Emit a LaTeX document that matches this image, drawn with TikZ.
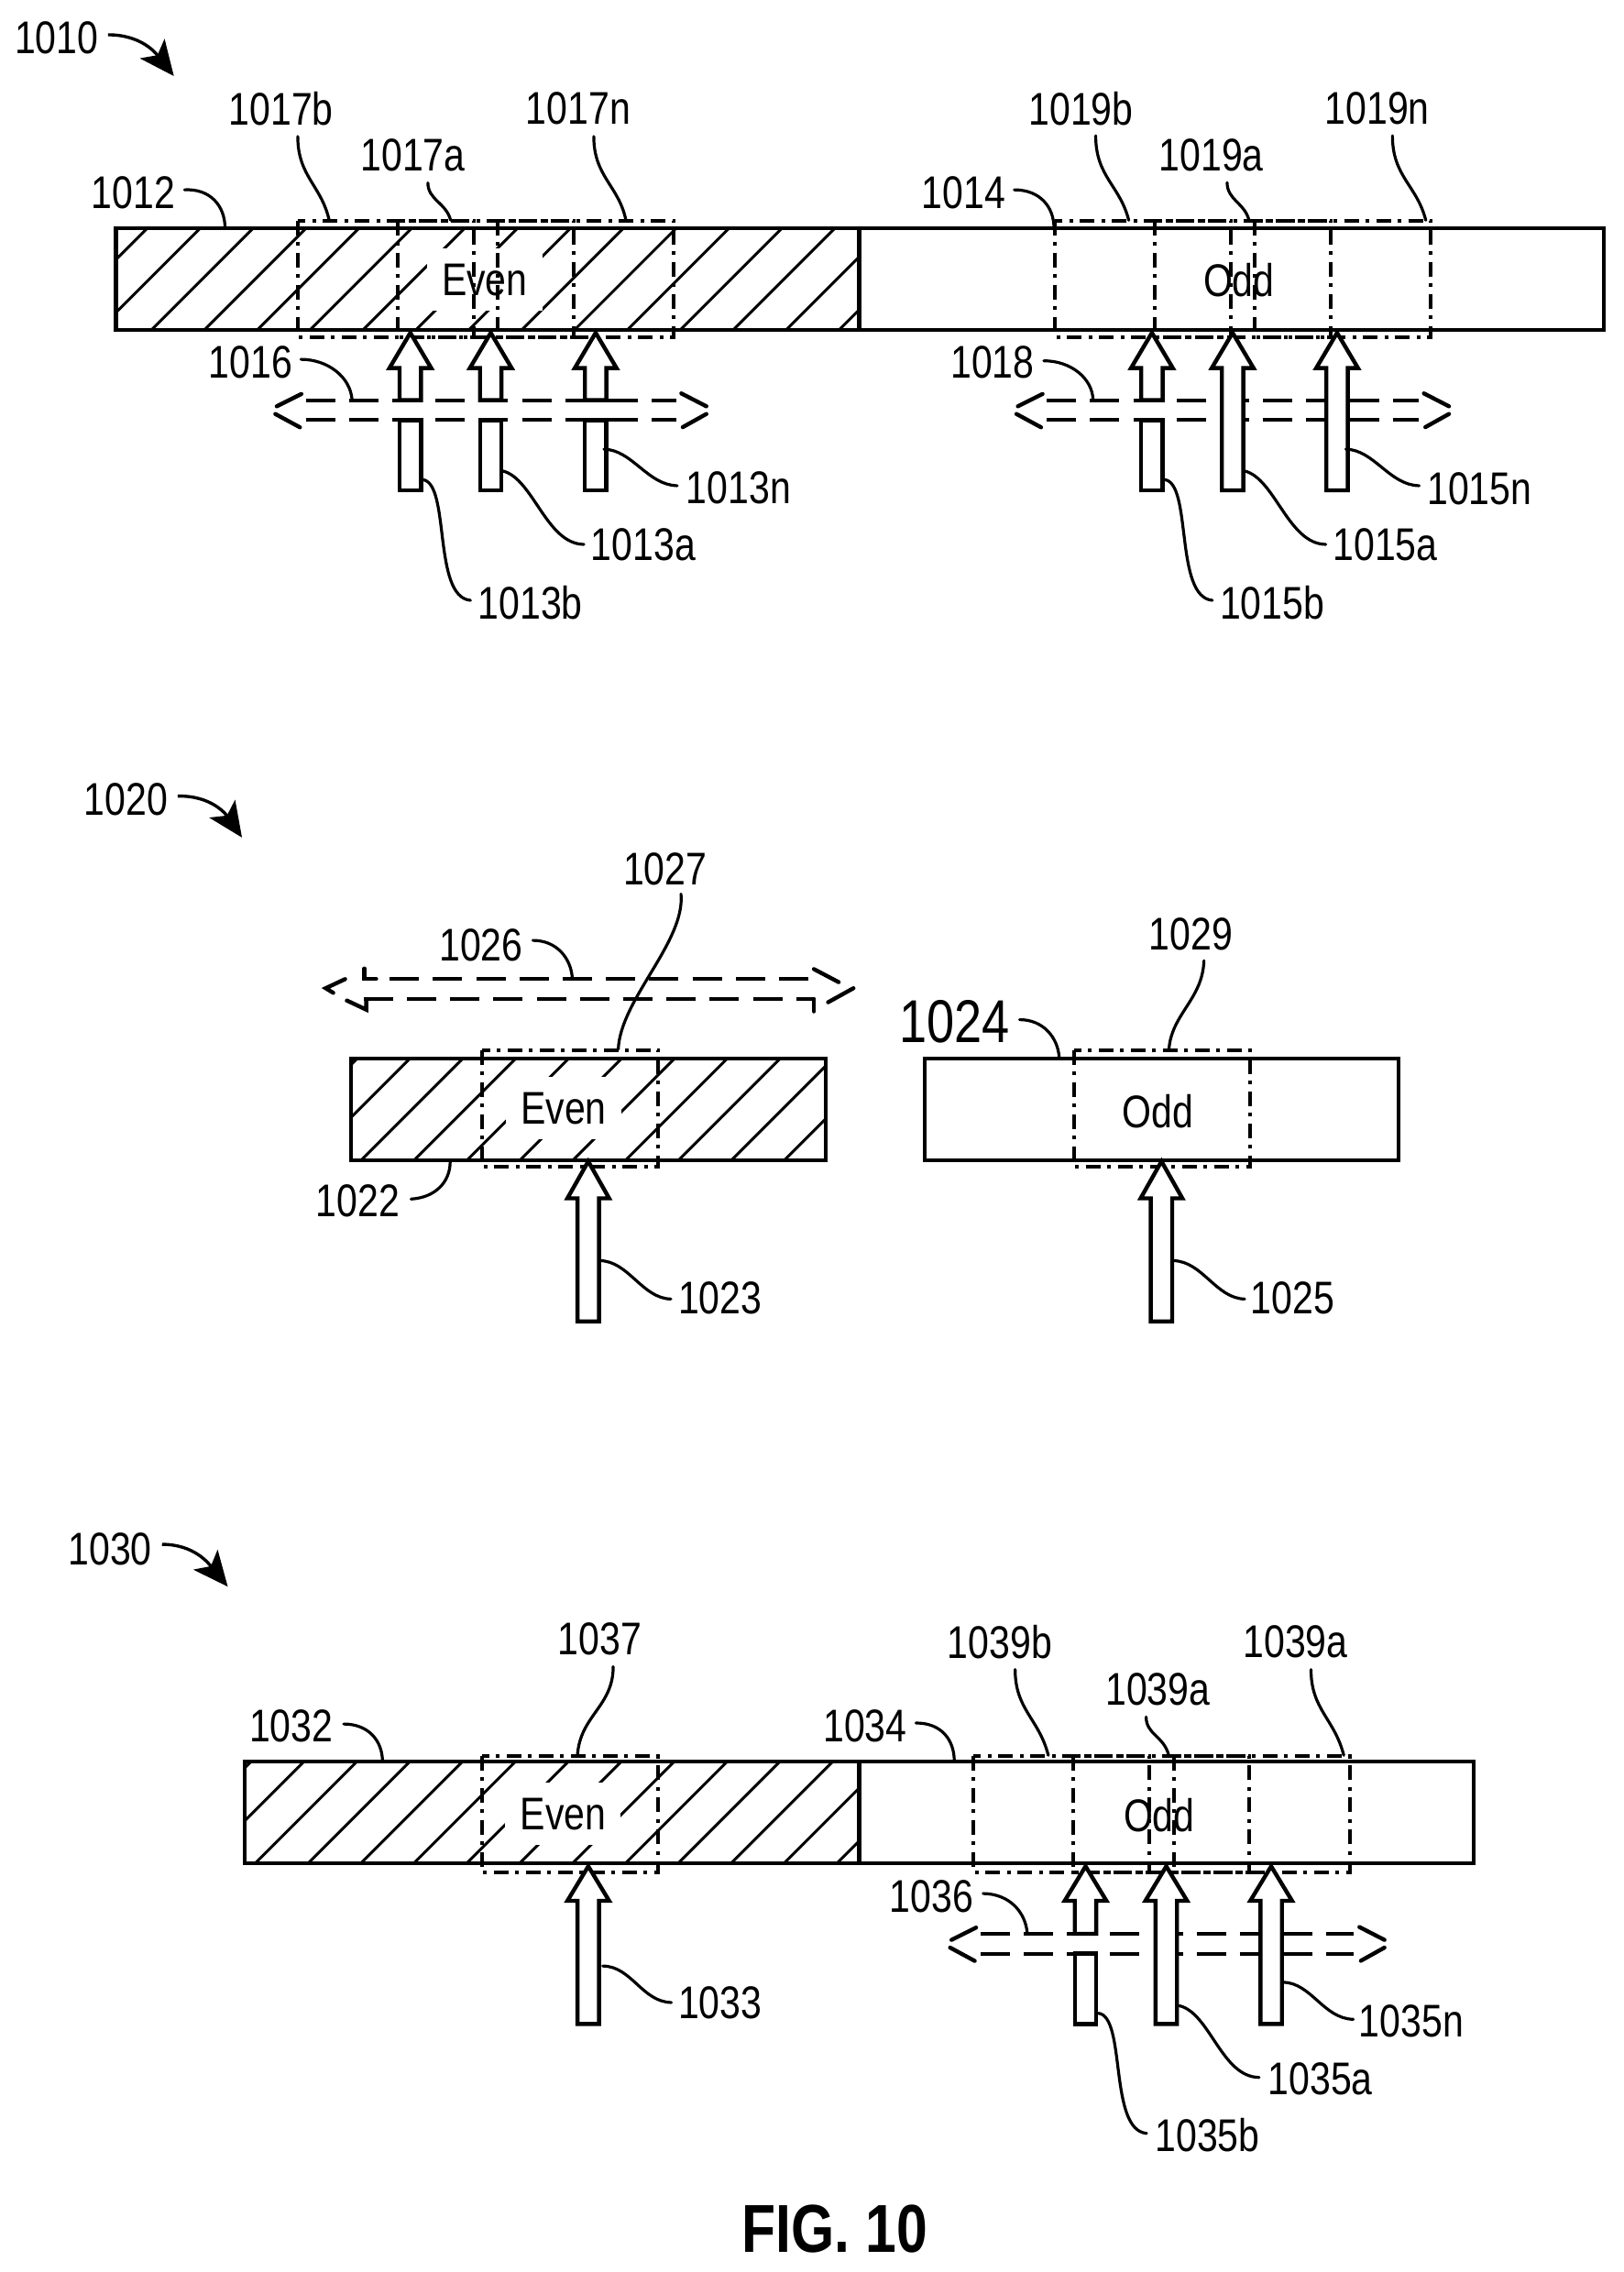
\documentclass[tikz,border=0pt]{standalone}
\usepackage{fontspec}
\setmainfont[FakeStretch=0.82]{Liberation Sans}
\usetikzlibrary{arrows.meta}
\newcommand\lead[5]{\coordinate (#1a) at (#2); \coordinate (#1b) at (#5); \draw[leader] (#1a) .. controls (#3) and (#4) .. (#1b);}
\newcommand\blk[4]{\draw[blockarrow] ({#1-7.4},#4) -- ({#1-7.4},#3) -- ({#1-14.4},#3) -- (#1,#2) -- ({#1+14.4},#3) -- ({#1+7.4},#3) -- ({#1+7.4},#4) -- cycle;}
\newcommand\gapblk[6]{\draw[blockarrow] ({#1-7.4},#4) -- ({#1-7.4},#3) -- ({#1-14.4},#3) -- (#1,#2) -- ({#1+14.4},#3) -- ({#1+7.4},#3) -- ({#1+7.4},#4) -- cycle;
 \draw[blockarrow] ({#1-7.4},#6) -- ({#1-7.4},#5) -- ({#1+7.4},#5) -- ({#1+7.4},#6) -- cycle;}
\newcommand\hatchbar[5]{\begin{scope}
 \clip (#1,#3) rectangle (#2,#4);
 \foreach \k in {0,...,40} {\draw[hatchline] ({#5+36.5*(\k-3)},#4) -- ++(80,-80);}
 \end{scope}}
\newcommand\ddbox[2]{\draw[dashdot] (#1,#2) rectangle ++(121.4,80.4);}
\newcommand\dblarrow[4]{\draw[dashline] ({#1+21},#3) -- ({#2-21},#3);
 \draw[dashline] ({#1+21},#4) -- ({#2-21},#4);
 \draw[chevron] ({#1+18},{#3-4.3}) -- ({#1+1},{#3+4.2});
 \draw[chevron] (#1,{#4-4.2}) -- ({#1+17},{#4+5});
 \draw[chevron] ({#2-17.3},{#3-4.7}) -- (#2,{#3+4.2});
 \draw[chevron] (#2,{#4-4.2}) -- ({#2-16.3},{#4+4.9});}
\begin{document}
\begin{tikzpicture}[x=1.581pt,y=-1.581pt,
 lab/.style={font=\fontsize{50}{50}\selectfont,inner sep=0pt,text=black},
 bar/.style={draw=black,line width=4.2pt},
 hatchline/.style={draw=black,line width=3pt},
 leader/.style={draw=black,line width=3.2pt,line cap=round},
 dashdot/.style={draw=black,line width=4pt,dash pattern=on 16pt off 7.5pt on 4pt off 7.5pt},
 dashline/.style={draw=black,line width=4pt,dash pattern=on 32pt off 15.2pt},
 chevron/.style={draw=black,line width=4.4pt,line cap=round},
 blockarrow/.style={draw=black,fill=white,line width=4.4pt,miter limit=4},
 evenbox/.style={fill=white,inner sep=0pt,minimum width=126pt,minimum height=68pt,font=\fontsize{50}{50}\selectfont},
 refarrow/.style={draw=black,line width=3.4pt,-{Stealth[length=38pt,width=34pt,inset=9pt]}}]
\useasboundingbox (0,0) rectangle (1120.2,1568);
\fill[white] (0,0) rectangle (1120.2,1568);

% ---------- panel 1010
\hatchbar{80}{593}{157.5}{227.7}{141}
\node[evenbox] (even1) at (334.5,193) {Even};
\draw[bar] (80,157.5) rectangle (1107,227.7);
\draw[bar] (593,157.5) -- (593,227.7);
\node[lab] (odd1) at (855,193) {Odd};
\ddbox{205.6}{152.2}\ddbox{274.7}{152.2}\ddbox{343.7}{152.2}
\ddbox{728.2}{152.2}\ddbox{797}{152.2}\ddbox{866.2}{152.2}
\dblarrow{190}{487.5}{276.2}{289.9}
\dblarrow{701.5}{1000}{276.2}{289.9}
\gapblk{283.2}{229.7}{254}{276.2}{289.9}{338.4}
\gapblk{338.7}{229.7}{254}{276.2}{289.9}{338.4}
\gapblk{411.1}{229.7}{254}{276.2}{289.9}{338.4}
\gapblk{795}{229.7}{254}{276.2}{289.9}{338.4}
\blk{850.7}{229.7}{254}{338.4}
\blk{922.8}{229.7}{254}{338.4}

\node[lab] (n1010) at (39,26) {1010};
\node[lab] (n1017b) at (194,75) {1017b};
\node[lab] (n1017a) at (285,107) {1017a};
\node[lab] (n1017n) at (399,75) {1017n};
\node[lab] (n1012) at (92,133) {1012};
\node[lab] (n1016) at (173,250) {1016};
\node[lab] (n1013n) at (509.7,336.5) {1013n};
\node[lab] (n1013a) at (444,376) {1013a};
\node[lab] (n1013b) at (366,416) {1013b};
\node[lab] (n1019b) at (746,75) {1019b};
\node[lab] (n1019a) at (836,107) {1019a};
\node[lab] (n1019n) at (950.5,75) {1019n};
\node[lab] (n1014) at (665,133) {1014};
\node[lab] (n1018) at (685,250) {1018};
\node[lab] (n1015n) at (1021,337) {1015n};
\node[lab] (n1015a) at (956,376) {1015a};
\node[lab] (n1015b) at (878,416) {1015b};

\coordinate (r1a) at (74.5,24); \coordinate (r1b) at (120,52.5);
\draw[refarrow] (r1a) .. controls (97,24) and (107,36) .. (r1b);
\lead{a1}{205.5,94.2}{205.5,122}{222,128}{227.3,152.5}
\lead{a2}{295.3,126.2}{295.3,138}{308,140}{311,152}
\lead{a3}{409.8,94.2}{409.8,122}{427,128}{432,152}
\lead{a4}{127.3,131}{145,130}{155.3,142}{155.3,157.4}
\lead{a5}{207.7,248}{226,248}{242,260}{243,276.2}
\lead{a6}{416.8,310}{436.4,310.4}{446.8,334.8}{467.4,335.2}
\lead{a7}{346.8,325}{368,330}{377,375.5}{403,375.7}
\lead{a8}{291.6,331}{311,333}{298.3,412}{324.7,414.3}
\lead{a9}{756.2,93.7}{756.2,122}{773,128}{779,152}
\lead{a10}{846.9,126}{846.9,138}{859,140}{862,152}
\lead{a11}{961,93.7}{961,122}{978,128}{984,152}
\lead{a12}{700,131}{718,131}{727.4,143}{727.4,157.5}
\lead{a13}{720.4,249}{739,249}{754,261}{754.4,276.2}
\lead{a14}{928.8,310}{948.4,310.4}{958.8,334.8}{979.4,335.2}
\lead{a15}{858.8,325}{880,330}{889,375.5}{915,375.7}
\lead{a16}{803.6,331}{823,333}{810.3,412}{836.7,414.3}

% ---------- panel 1020
\node[lab] (n1020) at (87,552) {1020};
\coordinate (r2a) at (122.7,549.4); \coordinate (r2b) at (167,578);
\draw[refarrow] (r2a) .. controls (146,549) and (156,562) .. (r2b);
\hatchbar{242.4}{570}{730.5}{801}{249}
\node[evenbox] (even2) at (389,765) {Even};
\draw[bar] (242.4,730.5) rectangle (570,801);
\draw[bar] (638.3,730.5) rectangle (965.4,801);
\node[lab] (odd2) at (799,767) {Odd};
\ddbox{333}{724.6}\ddbox{741.2}{724.6}
\draw[dashline] (269,675.5) -- (558.6,675.5);
\draw[dashline] (251,689.4) -- (561.7,689.4);
\draw[chevron] (251.5,668.4) -- (251.5,675.5) -- (259.6,675.5);
\draw[chevron] (238.2,675.7) -- (224.8,682) -- (230,685.2);
\draw[chevron] (239.4,690.5) -- (252.8,696.8) -- (252.8,690);
\draw[chevron] (561.7,668.8) -- (578.8,677.8);
\draw[chevron] (589,682) -- (571.5,691.7);
\draw[chevron] (561.7,689.4) -- (561.7,698);
\blk{406}{801.5}{827}{912}
\blk{801.6}{801.5}{827}{912}
\node[lab] (n1027) at (459,600) {1027};
\node[lab] (n1026) at (332,652) {1026};
\node[lab] (n1029) at (822,645) {1029};
\node[lab,font=\fontsize{66}{66}\selectfont] (n1024) at (659,705) {1024};
\node[lab] (n1022) at (247,829) {1022};
\node[lab] (n1023) at (497,896) {1023};
\node[lab] (n1025) at (892,896) {1025};
\lead{b1}{470,617}{473,650}{428,690}{426.7,724.2}
\lead{b2}{367.8,649}{384,649}{394,661}{395,675.1}
\lead{b3}{830.9,663}{830,690}{808,700}{806.7,725}
\lead{b4}{703.7,703.7}{720,703.7}{730,716}{731,729.6}
\lead{b5}{310.7,801.6}{310.7,816}{300.2,826.5}{283.7,827.5}
\lead{b6}{414,870}{434,870.4}{443,896}{463,896.5}
\lead{b7}{809.6,870}{830,870.4}{839,896}{859,896.5}

% ---------- panel 1030
\node[lab] (n1030) at (76,1069) {1030};
\coordinate (r3a) at (111.8,1065.8); \coordinate (r3b) at (157.2,1095);
\draw[refarrow] (r3a) .. controls (134,1065.8) and (144,1079) .. (r3b);
\hatchbar{169}{593}{1215.8}{1286}{176}
\node[evenbox] (even3) at (388.6,1252) {Even};
\draw[bar] (169,1215.8) rectangle (1017,1286);
\draw[bar] (593,1215.8) -- (593,1286);
\node[lab] (odd3) at (800,1253) {Odd};
\ddbox{332.6}{1211.8}
\ddbox{671.8}{1211.8}\ddbox{740.9}{1211.8}\ddbox{810}{1211.8}
\dblarrow{655.7}{955.5}{1334.6}{1348.3}
\gapblk{749.2}{1288}{1311.8}{1334.6}{1348.3}{1396.8}
\blk{804.9}{1288}{1311.8}{1396.8}
\blk{877.3}{1288}{1311.8}{1396.8}
\blk{406}{1288}{1311.8}{1396.8}
\node[lab] (n1037) at (414,1131) {1037};
\node[lab] (n1032) at (201,1191) {1032};
\node[lab] (n1034) at (597,1191) {1034};
\node[lab] (n1039b) at (690,1133) {1039b};
\node[lab] (n1039am) at (799,1166) {1039a};
\node[lab] (n1039a) at (894,1133) {1039a};
\node[lab] (n1036) at (643,1309) {1036};
\node[lab] (n1033) at (497,1382) {1033};
\node[lab] (n1035n) at (974,1395) {1035n};
\node[lab] (n1035a) at (911.3,1435) {1035a};
\node[lab] (n1035b) at (833.3,1473.2) {1035b};
\lead{c1}{423.2,1150.2}{423.2,1178}{400,1184}{398.5,1212}
\lead{c2}{237.2,1189.8}{254,1189.8}{264,1201}{264,1216}
\lead{c3}{700.6,1152.2}{700.6,1180}{717,1186}{723.5,1211.4}
\lead{c4}{791,1184.9}{791,1197}{803,1198}{806.5,1211}
\lead{c5}{904.8,1152.2}{904.8,1180}{921,1186}{927.4,1211.4}
\lead{c6}{632.2,1189.1}{650,1189.1}{658.6,1201}{658.6,1215.5}
\lead{c7}{678.5,1306.8}{697,1307}{708,1320}{709,1334.6}
\lead{c8}{416,1356.8}{436,1357}{443,1381.5}{463.3,1382}
\lead{c9}{885.5,1368}{905,1368.4}{913.4,1393.2}{934,1393.6}
\lead{c10}{813.8,1384.2}{835,1389}{843,1433.5}{869,1433.7}
\lead{c11}{758,1389.4}{777.4,1391.4}{765,1470}{791.3,1472.3}

\node[font=\fontsize{74}{74}\selectfont\bfseries,inner sep=0pt] (fig) at (576,1538) {FIG. 10};
\end{tikzpicture}
\end{document}
